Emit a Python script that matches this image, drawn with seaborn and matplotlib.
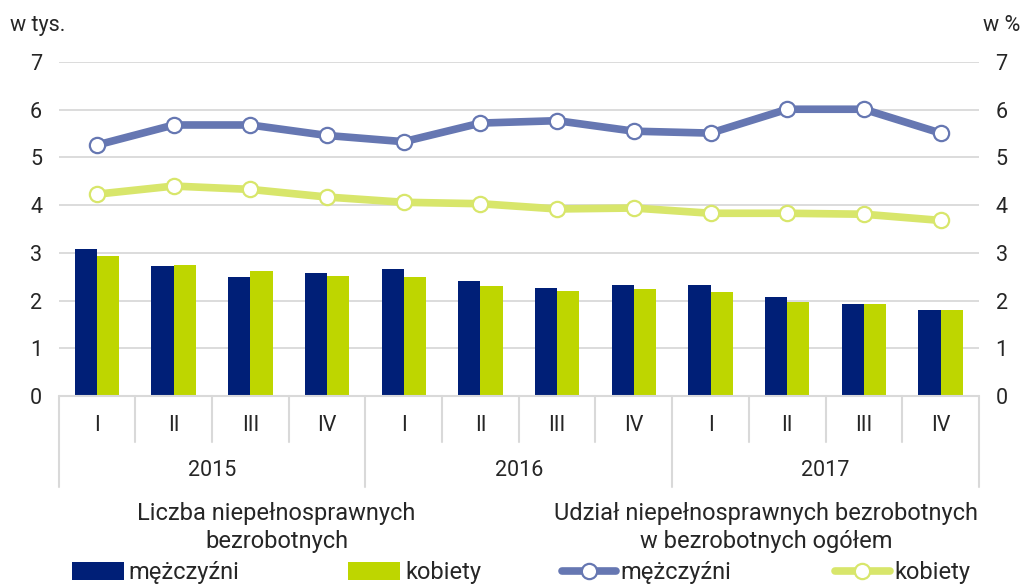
import numpy as np
import pandas as pd
import matplotlib
matplotlib.use('Agg')
import matplotlib.pyplot as plt
import matplotlib.transforms as mtransforms
from matplotlib.patches import Patch
from matplotlib.lines import Line2D
import seaborn as sns

# ---------- Data ----------
years = ['2015', '2016', '2017']
quarters = ['I', 'II', 'III', 'IV']
men_count = [3.08, 2.72, 2.50, 2.57, 2.66, 2.40, 2.26, 2.33, 2.33, 2.08, 1.92, 1.80]
women_count = [2.93, 2.75, 2.62, 2.52, 2.49, 2.31, 2.20, 2.24, 2.17, 1.97, 1.92, 1.80]
men_share = [5.26, 5.68, 5.68, 5.46, 5.33, 5.72, 5.77, 5.55, 5.51, 6.01, 6.01, 5.51]
women_share = [4.23, 4.40, 4.33, 4.17, 4.06, 4.03, 3.92, 3.94, 3.83, 3.83, 3.81, 3.68]

series_names = ['mężczyźni', 'kobiety']
bar_colors = ['#001F77', '#BED600']
line_colors = ['#6677B2', '#D8E66B']

periods = [f'{y}-{q}' for y in years for q in quarters]

df = pd.DataFrame({
    'period': periods * 2,
    'value': men_count + women_count,
    'sex': [series_names[0]] * 12 + [series_names[1]] * 12,
})

# ---------- Style ----------
sns.set_style('white')
plt.rcParams['font.family'] = ['Roboto', 'DejaVu Sans']
FS = 15.5
LFS = 17

fig = plt.figure(figsize=(10.24, 5.86), dpi=100)
ax = fig.add_axes([0.0573, 0.3242, 0.8987, 0.5700])

sns.barplot(data=df, x='period', y='value', hue='sex', order=periods,
            hue_order=series_names, palette=bar_colors, width=0.58,
            saturation=1, ax=ax, legend=False, edgecolor='none')

ax.set_ylim(0, 7)
ax.set_xlim(-0.5, 11.5)
ax.set_yticks(range(8))
ax.yaxis.grid(True, color='#D9D9D9', linewidth=1.3)
ax.set_axisbelow(True)
for s in ax.spines.values():
    s.set_visible(False)
ax.set_xlabel('')
ax.set_ylabel('')
ax.set_xticks([])
ax.tick_params(axis='y', length=0, labelsize=FS, pad=12)

# secondary axis for percentages
ax2 = ax.twinx()
idx = np.arange(12)
for vals, col in zip([men_share, women_share], line_colors):
    sns.lineplot(x=idx, y=vals, ax=ax2, color=col, linewidth=5.5,
                 marker='o', markersize=11, markerfacecolor='white',
                 markeredgecolor=col, markeredgewidth=1.6)
ax2.set_ylim(0, 7)
ax2.set_yticks(range(8))
ax2.set_xlim(-0.5, 11.5)
for s in ax2.spines.values():
    s.set_visible(False)
ax2.tick_params(axis='y', length=0, labelsize=FS, pad=12)

# ---------- Category axis (two levels) ----------
trans = mtransforms.blended_transform_factory(ax.transData, ax.transAxes)
ax.plot([-0.5, 11.5], [0, 0], transform=trans, color='#D9D9D9',
        lw=1.5, clip_on=False)
for i in range(13):
    pos = i - 0.5
    bottom = -0.272 if i % 4 == 0 else -0.138
    ax.plot([pos, pos], [0, bottom], transform=trans, color='#D9D9D9',
            lw=1.5, clip_on=False)
for i, p in enumerate(periods):
    ax.text(i, -0.087, p.split('-')[1], transform=trans, ha='center',
            va='center', fontsize=FS)
for j, y in enumerate(years):
    ax.text(j * 4 + 1.5, -0.222, y, transform=trans, ha='center',
            va='center', fontsize=FS)

# ---------- Units ----------
fig.text(0.010, 0.957, 'w tys.', fontsize=FS, va='center', ha='left')
fig.text(0.996, 0.957, 'w %', fontsize=FS, va='center', ha='right')

# ---------- Legends ----------
bar_handles = [Patch(facecolor=c, edgecolor='none') for c in bar_colors]
leg1 = fig.legend(bar_handles, series_names, loc='upper center',
                  bbox_to_anchor=(0.27, 0.168), ncol=2, frameon=False,
                  fontsize=LFS, title='Liczba niepełnosprawnych\nbezrobotnych',
                  title_fontsize=LFS, handlelength=2.2, handleheight=0.8,
                  columnspacing=4.6, handletextpad=0.2, borderpad=0.1,
                  labelspacing=0.2, alignment='center')
leg1.get_title().set_multialignment('center')
leg1.get_title().set_linespacing(1.3)
leg1._legend_box.sep = 6

line_handles = [Line2D([0], [0], color=c, lw=5.5, marker='o', markersize=11,
                       markerfacecolor='white', markeredgecolor=c,
                       markeredgewidth=1.6) for c in line_colors]
leg2 = fig.legend(line_handles, series_names, loc='upper center',
                  bbox_to_anchor=(0.748, 0.168), ncol=2, frameon=False,
                  fontsize=LFS,
                  title='Udział niepełnosprawnych bezrobotnych\nw bezrobotnych ogółem',
                  title_fontsize=LFS, handlelength=2.3,
                  columnspacing=4.4, handletextpad=0.2, borderpad=0.1,
                  labelspacing=0.2, alignment='center')
leg2.get_title().set_multialignment('center')
leg2.get_title().set_linespacing(1.3)
leg2._legend_box.sep = 6

fig.savefig('out.png', dpi=100)
